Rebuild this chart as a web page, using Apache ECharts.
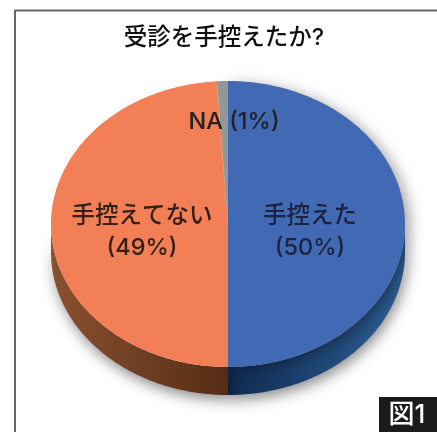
<!DOCTYPE html>
<html><head><meta charset="utf-8">
<style>html,body{margin:0;padding:0;background:#fff}#c{width:437px;height:432px}</style>
<script src="https://cdn.jsdelivr.net/npm/echarts@6/dist/echarts.min.js"></script>
</head><body><div id="c"></div>
<script>
const categories = ['手控えた', '手控えてない', 'NA'];
const values = [50, 49, 1];
const labelLines = [['手控えた', '(50%)'], ['手控えてない', '(49%)'], ['NA (1%)']];
const titleText = '受診を手控えたか?';
const badgeText = '図1';

const topColors = ['#4169b4', '#f37f56', '#929893'];
const wallColors = [['#0e2b52', '#2d5f96'], ['#8a5030', '#552c14'], ['#777', '#777']];
const labelColors = ['#1c2340', '#332018', '#222'];
const labelPos = [[310, 232], [142, 232], [234, 122]];
const cx = 228, cy = 224, rx = 177, ry = 143, depth = 28;
const labelFont = '500 23.5px "Inter","Noto Sans CJK JP"';
const total = values.reduce((a, b) => a + b, 0);
const startOf = i => values.slice(0, i).reduce((a, b) => a + b, 0) / total * Math.PI * 2;
const pt = (a, dy) => [cx + rx * Math.sin(a), cy - ry * Math.cos(a) + dy];

function arc(a0, a1, dy) {
  const n = Math.max(2, Math.ceil((a1 - a0) * 60)), out = [];
  for (let k = 0; k <= n; k++) out.push(pt(a0 + (a1 - a0) * k / n, dy));
  return out;
}
function renderWall(params, api) {
  const i = params.dataIndex, a0 = startOf(i), a1 = a0 + api.value(0) / total * Math.PI * 2;
  const lo = Math.max(a0, Math.PI / 2), hi = Math.min(a1, Math.PI * 1.5);
  if (lo >= hi) return { type: 'group', children: [] };
  const top = arc(lo, hi, 0), bot = arc(lo, hi, depth).reverse();
  const c = wallColors[i];
  return { type: 'polygon', shape: { points: top.concat(bot) }, z2: 1, style: {
    fill: new echarts.graphic.LinearGradient(0, 0, 1, 0, [{ offset: 0, color: c[0] }, { offset: 1, color: c[1] }]),
    shadowBlur: 14, shadowColor: 'rgba(0,0,0,0.45)', shadowOffsetX: 2, shadowOffsetY: 5 } };
}
function renderTop(params, api) {
  const i = params.dataIndex, a0 = startOf(i), a1 = a0 + api.value(0) / total * Math.PI * 2;
  const style = { fill: topColors[i] };
  if (i === 0) { style.shadowBlur = 14; style.shadowColor = 'rgba(0,0,0,0.35)'; style.shadowOffsetX = 5; style.shadowOffsetY = 3; }
  return { type: 'polygon', shape: { points: [[cx, cy]].concat(arc(a0, a1, 0)) }, style, z2: 2 };
}
function renderLabel(params) {
  const i = params.dataIndex;
  return { type: 'text', z2: 5, x: labelPos[i][0], y: labelPos[i][1], style: {
    text: labelLines[i].join('\n'), fill: labelColors[i], align: 'center', verticalAlign: 'middle',
    font: labelFont, lineHeight: 32 } };
}
const seriesData = categories.map((name, i) => ({ name, value: values[i] }));
const chart = echarts.init(document.getElementById('c'), null, { renderer: 'canvas' });
chart.setOption({
  animation: false,
  backgroundColor: '#fff',
  title: { text: titleText, left: 219, top: 21, textAlign: 'center', textStyle: { fontFamily: '"Inter","Noto Sans CJK JP"', fontSize: 23.5, fontWeight: 500, color: '#111' } },
  series: [
    { type: 'custom', coordinateSystem: 'none', data: seriesData, renderItem: renderWall, z: 2, silent: true },
    { type: 'custom', coordinateSystem: 'none', data: seriesData, renderItem: renderTop, z: 3, silent: true },
    { type: 'custom', coordinateSystem: 'none', data: seriesData, renderItem: renderLabel, z: 4, silent: true }
  ],
  graphic: [
    { type: 'line', shape: { x1: 15, y1: 10.5, x2: 437, y2: 10.5 }, style: { stroke: '#666', lineWidth: 2 } },
    { type: 'line', shape: { x1: 15, y1: 10, x2: 15, y2: 432 }, style: { stroke: '#666', lineWidth: 2 } },
    { type: 'rect', shape: { x: 379, y: 397, width: 58, height: 35 }, style: { fill: '#1b1b1b' } },
    { type: 'text', x: 407, y: 415, style: { text: badgeText, fill: '#fff', align: 'center', verticalAlign: 'middle', font: '500 26px "Inter","Noto Sans CJK JP"' } }
  ]
});
</script></body></html>
